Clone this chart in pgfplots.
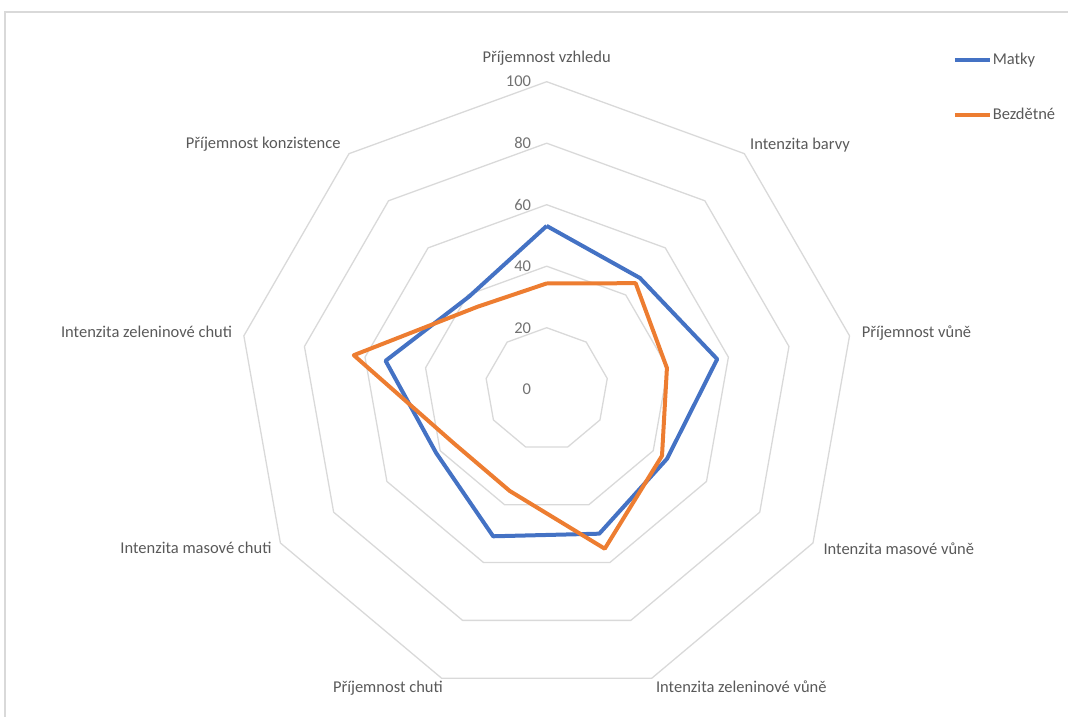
\documentclass[border=0pt]{standalone}
\usepackage{fontspec}
\setmainfont{Carlito}
\usepackage{pgfplots}
\usepackage{pgfplotstable}
\usepgfplotslibrary{polar}
\pgfplotsset{compat=1.18}

\definecolor{matky}{HTML}{4472C4}
\definecolor{bezdetne}{HTML}{ED7D31}
\definecolor{ringgray}{HTML}{D9D9D9}
\definecolor{framegray}{HTML}{D9D9D9}
\definecolor{labelgray}{HTML}{595959}
\newcommand\lbl{\fontsize{16.5}{19}\selectfont}

% angle (deg, counter-clockwise from the right) and the two mean scores;
% the last row repeats the first to close each polygon
\pgfplotstableread{
angle matky bezdetne
90  53.1 34.4
50  47.2 45.0
10  56.3 39.7
330 45.2 43.3
290 50.0 55.2
250 50.9 35.2
210 41.5 35.0
170 53.2 63.7
130 39.3 35.0
90  53.1 34.4
}\radar

\begin{document}
\begin{tikzpicture}[x=1pt,y=1pt]
\useasboundingbox (0,0) rectangle (1068,716);
\draw[framegray, line width=1.2pt] (5,-5) -- (5,704) -- (1080,704);
\begin{polaraxis}[
  at={(546.7pt,326.8pt)}, anchor=center,
  width=615pt, height=615pt, scale only axis,
  xmin=0, xmax=360, ymin=0, ymax=100,
  hide axis, clip=false,
  legend style={at={(1.16,1.05)}, anchor=north west, draw=none, fill=none,
    font=\lbl, text=labelgray, row sep=38pt, inner sep=0pt,
    nodes={inner xsep=1pt}, cells={anchor=west}},
  legend image code/.code={\draw[#1] (0pt,0pt) -- (35pt,0pt);},
]
\pgfplotsinvokeforeach{20,40,60,80,100}{
  \addplot[ringgray, line width=1.3pt, forget plot] coordinates
    {(90,#1) (50,#1) (10,#1) (330,#1) (290,#1) (250,#1) (210,#1) (170,#1) (130,#1) (90,#1)};
}
\addplot[matky, line width=4pt, line join=round] table[x=angle, y=matky]{\radar};
\addlegendentry{Matky}
\addplot[bezdetne, line width=4pt, line join=round] table[x=angle, y=bezdetne]{\radar};
\addlegendentry{Bezdětné}

% radial scale
\pgfplotsinvokeforeach{0,20,40,60,80,100}{
  \node[anchor=east, inner sep=0pt, xshift=-15.5pt, font=\lbl, text=labelgray!85] at (axis cs:90,#1) {#1};
}
% category names
\node[anchor=base, inner sep=0pt, font=\lbl, text=labelgray, yshift=19pt] at (axis cs:90,100) {Příjemnost vzhledu};
\node[anchor=base west, inner sep=0pt, font=\lbl, text=labelgray, xshift=5.6pt, yshift=4.3pt] at (axis cs:50,100) {Intenzita barvy};
\node[anchor=base west, inner sep=0pt, font=\lbl, text=labelgray, xshift=12.2pt, yshift=-1.2pt] at (axis cs:10,100) {Příjemnost vůně};
\node[anchor=base west, inner sep=0pt, font=\lbl, text=labelgray, xshift=10.3pt, yshift=-12pt] at (axis cs:330,100) {Intenzita masové vůně};
\node[anchor=base west, inner sep=0pt, font=\lbl, text=labelgray, xshift=4pt, yshift=-14.8pt] at (axis cs:290,100) {Intenzita zeleninové vůně};
\node[anchor=base east, inner sep=0pt, font=\lbl, text=labelgray, xshift=1.5pt, yshift=-14.8pt] at (axis cs:250,100) {Příjemnost chuti};
\node[anchor=base east, inner sep=0pt, font=\lbl, text=labelgray, xshift=-8.7pt, yshift=-11pt] at (axis cs:210,100) {Intenzita masové chuti};
\node[anchor=base east, inner sep=0pt, font=\lbl, text=labelgray, xshift=-11.6pt, yshift=-2pt] at (axis cs:170,100) {Intenzita zeleninové chuti};
\node[anchor=base east, inner sep=0pt, font=\lbl, text=labelgray, xshift=-8.3pt, yshift=5.3pt] at (axis cs:130,100) {Příjemnost konzistence};
\end{polaraxis}
\end{tikzpicture}
\end{document}
